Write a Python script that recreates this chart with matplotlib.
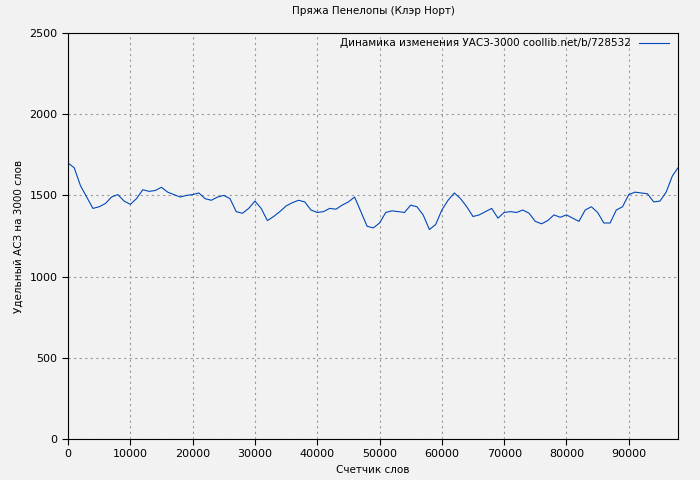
import matplotlib
matplotlib.use('Agg')
import matplotlib.pyplot as plt

# counter of words (thousands) and values
words = [0, 1, 2, 3, 4, 5, 6, 7, 8, 9, 10, 11, 12, 13, 14, 15, 16, 17, 18, 19,
         20, 21, 22, 23, 24, 25, 26, 27, 28, 29, 30, 31, 32, 33, 34, 35, 36, 37, 38, 39,
         40, 41, 42, 43, 44, 45, 46, 47, 48, 49, 50, 51, 52, 53, 54, 55, 56, 57, 58, 59,
         60, 61, 62, 63, 64, 65, 66, 67, 68, 69, 70, 71, 72, 73, 74, 75, 76, 77, 78, 79,
         80, 81, 82, 83, 84, 85, 86, 87, 88, 89, 90, 91, 92, 93, 94, 95, 96, 97, 97.9]
values = [1700, 1670, 1560, 1490, 1420, 1430, 1450, 1490, 1505, 1465, 1445, 1480, 1535, 1525, 1530, 1550, 1520, 1505, 1490, 1500,
          1505, 1515, 1480, 1470, 1490, 1500, 1480, 1400, 1390, 1420, 1465, 1420, 1345, 1370, 1400, 1435, 1455, 1470, 1460, 1410,
          1395, 1400, 1420, 1415, 1440, 1460, 1490, 1400, 1310, 1300, 1330, 1395, 1405, 1400, 1395, 1440, 1430, 1380, 1290, 1320,
          1410, 1470, 1515, 1480, 1430, 1370, 1380, 1400, 1420, 1360, 1395, 1400, 1395, 1410, 1390, 1340, 1325, 1345, 1380, 1365,
          1380, 1360, 1340, 1410, 1430, 1395, 1330, 1330, 1410, 1430, 1505, 1520, 1515, 1510, 1460, 1465, 1520, 1620, 1670]
x = [w * 1000 for w in words]

fig = plt.figure(figsize=(7, 4.8), dpi=100, facecolor='#f2f2f2')
ax = fig.add_axes([68/700, 41/480, 610/700, 406/480], facecolor='#f2f2f2')
ax.plot(x, values, color='#0047bb', lw=0.8, label='Динамика изменения УАСЗ-3000 coollib.net/b/728532')
ax.set_xlim(0, 97900)
ax.set_ylim(0, 2500)
ax.set_xticks(range(0, 90001, 10000))
ax.set_yticks(range(0, 2501, 500))
ax.grid(True, color='#999999', ls=(0, (2, 3)), lw=0.8)
ax.tick_params(labelsize=8, direction='out', length=4)
ax.set_title('Пряжа Пенелопы (Клэр Норт)', fontsize=7.5, pad=14)
ax.set_xlabel('Счетчик слов', fontsize=7.5)
ax.set_ylabel('Удельный АСЗ на 3000 слов', fontsize=7.5)
ax.legend(loc='upper right', fontsize=7.5, frameon=False, markerfirst=False, handlelength=2.8,
          bbox_to_anchor=(1.0, 1.01))
fig.savefig('out.png', dpi=100, facecolor=fig.get_facecolor())
